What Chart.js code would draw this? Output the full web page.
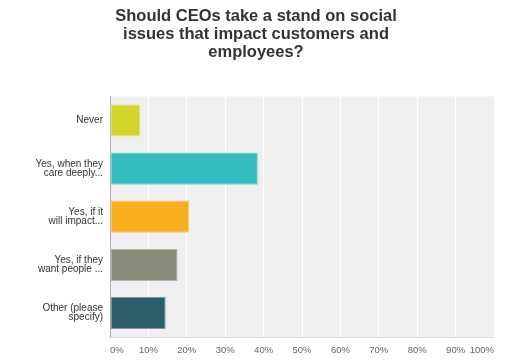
<!DOCTYPE html>
<html>
<head>
<meta charset="utf-8">
<script src="https://cdn.jsdelivr.net/npm/chart.js@4"></script>
<style>
  html, body { margin: 0; padding: 0; background: #fff; }
  #wrap { width: 505px; height: 363px; }
</style>
</head>
<body>
<div id="wrap"><canvas id="chart"></canvas></div>
<script>
const categories = [
  ['Never'],
  ['Yes, when they', 'care deeply...'],
  ['Yes, if it', 'will impact...'],
  ['Yes, if they', 'want people ...'],
  ['Other (please', 'specify)']
];
const values = [7.9, 38.5, 20.6, 17.6, 14.5];
const barColors = ['#d1d62a', '#33bdbf', '#f7ae1f', '#898a79', '#2e5e6a'];
const borderColors = ['#e2e67a', '#7fd6d7', '#f9cc72', '#b4b5a8', '#7c9ba3'];
const tickValues = [0, 10, 20, 30, 40, 50, 60, 70, 80, 90, 100];
const titleLines = ['Should CEOs take a stand on social', 'issues that impact customers and', 'employees?'];

// light grey panel behind the bars
const plotBg = {
  id: 'plotBg',
  beforeDraw(chart) {
    const { ctx, chartArea } = chart;
    ctx.save();
    ctx.fillStyle = '#efefef';
    ctx.fillRect(chartArea.left, chartArea.top, chartArea.right - chartArea.left, chartArea.bottom - chartArea.top);
    ctx.restore();
  }
};

new Chart(document.getElementById('chart'), {
  type: 'bar',
  data: {
    labels: categories,
    datasets: [{
      data: values,
      backgroundColor: barColors,
      borderColor: borderColors,
      borderWidth: 1,
      borderSkipped: false,
      barPercentage: 0.67,
      categoryPercentage: 1
    }]
  },
  options: {
    indexAxis: 'y',
    responsive: true,
    maintainAspectRatio: false,
    animation: false,
    layout: { padding: { top: 7, right: 11, left: 18, bottom: 0 } },
    plugins: {
      legend: { display: false },
      tooltip: { enabled: false },
      title: {
        display: true,
        text: titleLines,
        color: '#333',
        font: { family: 'Liberation Sans', size: 16.5, weight: 'bold', lineHeight: 1.1 },
        padding: { top: 0, bottom: 35 }
      }
    },
    scales: {
      x: {
        min: 0,
        max: 100,
        afterBuildTicks: (s) => { s.ticks = tickValues.map(v => ({ value: v })); },
        afterFit: (s) => { s.height = 26; },
        grid: { color: '#ffffff', lineWidth: 1, drawTicks: false },
        border: { color: '#dcdcdc' },
        ticks: {
          align: 'inner',
          padding: 8,
          color: '#666',
          font: { family: 'Liberation Sans', size: 9.5 },
          callback: (v) => v + '%'
        }
      },
      y: {
        afterFit: (s) => { s.width = 92; },
        grid: { display: false, drawTicks: false },
        border: { color: '#b0b0b0' },
        ticks: {
          padding: 7,
          color: '#333',
          font: { family: 'Liberation Sans', size: 10, lineHeight: 0.95 }
        }
      }
    }
  },
  plugins: [plotBg]
});
</script>
</body>
</html>
